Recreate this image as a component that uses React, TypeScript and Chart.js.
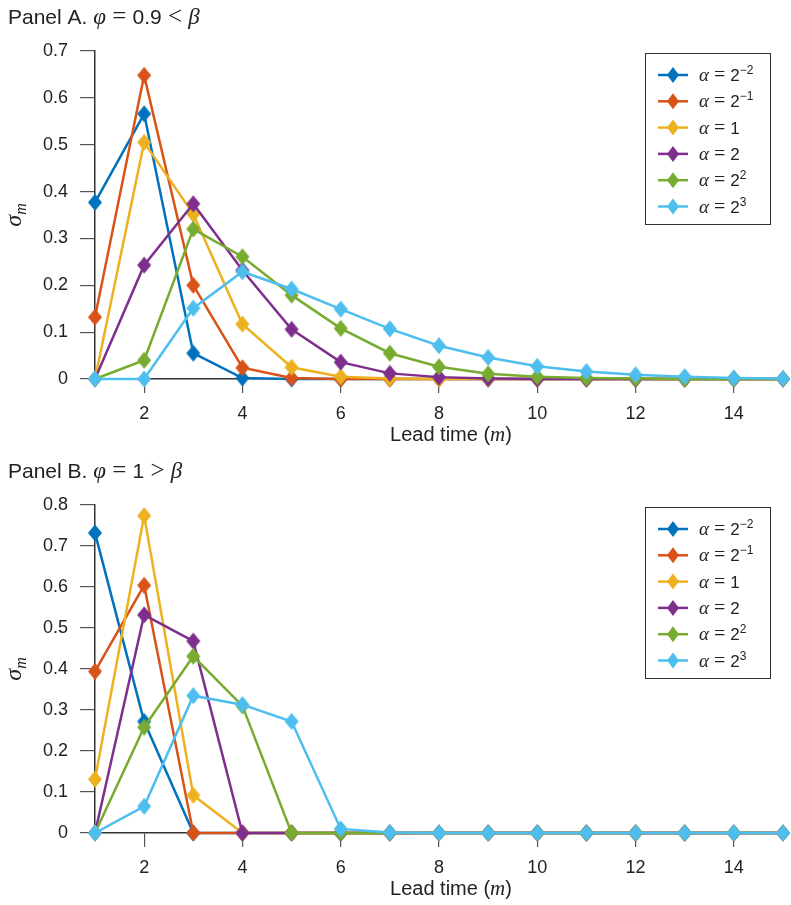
import React, { useEffect, useRef } from 'react';
import { Chart, registerables } from 'chart.js';

Chart.register(...registerables);

// ---------- data ----------
const leadTimes = [1, 2, 3, 4, 5, 6, 7, 8, 9, 10, 11, 12, 13, 14, 15];
const xTickValues = [2, 4, 6, 8, 10, 12, 14];
const yTicksA = [0, 0.1, 0.2, 0.3, 0.4, 0.5, 0.6, 0.7];
const yTicksB = [0, 0.1, 0.2, 0.3, 0.4, 0.5, 0.6, 0.7, 0.8];

const seriesColors = ['#0072BD', '#D95319', '#EDB120', '#7E2F8E', '#77AC30', '#4DBEEE'];
const legendBases = ['2', '2', '1', '2', '2', '2'];
const legendExps = ['\u22122', '\u22121', '', '', '2', '3'];

// Panel A: phi = 0.9 < beta
const alphaQuarterA = [0.377, 0.566, 0.055, 0.002, 0.0, 0, 0, 0, 0, 0, 0, 0, 0, 0, 0];
const alphaHalfA = [0.132, 0.648, 0.2, 0.024, 0.002, 0, 0, 0, 0, 0, 0, 0, 0, 0, 0];
const alphaOneA = [0, 0.505, 0.352, 0.117, 0.025, 0.005, 0.001, 0, 0, 0, 0, 0, 0, 0, 0];
const alphaTwoA = [0, 0.243, 0.374, 0.232, 0.106, 0.036, 0.012, 0.004, 0.001, 0, 0, 0, 0, 0, 0];
const alphaFourA = [0, 0.04, 0.32, 0.261, 0.179, 0.108, 0.055, 0.026, 0.011, 0.005, 0.002, 0.001, 0, 0, 0];
const alphaEightA = [0, 0, 0.151, 0.229, 0.192, 0.149, 0.107, 0.071, 0.046, 0.027, 0.016, 0.009, 0.005, 0.002, 0.001];

// Panel B: phi = 1 > beta
const alphaQuarterB = [0.732, 0.272, 0, 0, 0, 0, 0, 0, 0, 0, 0, 0, 0, 0, 0];
const alphaHalfB = [0.394, 0.604, 0, 0, 0, 0, 0, 0, 0, 0, 0, 0, 0, 0, 0];
const alphaOneB = [0.131, 0.774, 0.092, 0, 0, 0, 0, 0, 0, 0, 0, 0, 0, 0, 0];
const alphaTwoB = [0, 0.532, 0.468, 0, 0, 0, 0, 0, 0, 0, 0, 0, 0, 0, 0];
const alphaFourB = [0, 0.258, 0.431, 0.31, 0, 0, 0, 0, 0, 0, 0, 0, 0, 0, 0];
const alphaEightB = [0, 0.065, 0.335, 0.313, 0.272, 0.01, 0.001, 0, 0, 0, 0, 0, 0, 0, 0];

const seriesA = [alphaQuarterA, alphaHalfA, alphaOneA, alphaTwoA, alphaFourA, alphaEightA];
const seriesB = [alphaQuarterB, alphaHalfB, alphaOneB, alphaTwoB, alphaFourB, alphaEightB];

// ---------- text helpers ----------
const SANS = '"Liberation Sans", Arial, Helvetica, sans-serif';
const SERIF = '"Liberation Serif", "DejaVu Serif", serif';

type Run = { text: string; font: string; dy?: number };

function runsWidth(ctx: CanvasRenderingContext2D, runs: Run[]) {
  let w = 0;
  for (const r of runs) {
    ctx.font = r.font;
    w += ctx.measureText(r.text).width;
  }
  return w;
}

function drawRuns(ctx: CanvasRenderingContext2D, runs: Run[], x: number, y: number, align: 'left' | 'center') {
  let cx = align === 'center' ? x - runsWidth(ctx, runs) / 2 : x;
  ctx.textAlign = 'left';
  ctx.textBaseline = 'alphabetic';
  for (const r of runs) {
    ctx.font = r.font;
    ctx.fillText(r.text, cx, y + (r.dy || 0));
    cx += ctx.measureText(r.text).width;
  }
}

const titleRunsA: Run[] = [
  { text: 'Panel A. ', font: `21px ${SANS}` },
  { text: '\u03C6', font: `italic 23px ${SERIF}` },
  { text: ' = ', font: `25px ${SERIF}` },
  { text: '0.9', font: `21px ${SANS}` },
  { text: ' < ', font: `25px ${SERIF}` },
  { text: '\u03B2', font: `italic 23px ${SERIF}` },
];
const titleRunsB: Run[] = [
  { text: 'Panel B. ', font: `21px ${SANS}` },
  { text: '\u03C6', font: `italic 23px ${SERIF}` },
  { text: ' = ', font: `25px ${SERIF}` },
  { text: '1', font: `21px ${SANS}` },
  { text: ' > ', font: `25px ${SERIF}` },
  { text: '\u03B2', font: `italic 23px ${SERIF}` },
];

function diamondPath(ctx: CanvasRenderingContext2D, cx: number, cy: number, hw: number, hh: number) {
  ctx.beginPath();
  ctx.moveTo(cx, cy - hh);
  ctx.lineTo(cx + hw, cy);
  ctx.lineTo(cx, cy + hh);
  ctx.lineTo(cx - hw, cy);
  ctx.closePath();
}

function makeDiamond(color: string) {
  const c = document.createElement('canvas');
  c.width = 16;
  c.height = 18;
  const g = c.getContext('2d') as CanvasRenderingContext2D;
  g.fillStyle = color;
  diamondPath(g, 8, 9, 7, 8.5);
  g.fill();
  return c;
}

function makeDecorPlugin(titleRuns: Run[]) {
  return {
    id: 'decor',
    afterDraw(chart: any) {
      const ctx: CanvasRenderingContext2D = chart.ctx;
      const area = chart.chartArea;
      ctx.save();
      ctx.fillStyle = '#222';
      // panel title
      drawRuns(ctx, titleRuns, 8, 24, 'left');
      // x axis label
      drawRuns(
        ctx,
        [
          { text: 'Lead time (', font: `20px ${SANS}` },
          { text: 'm', font: `italic 21px ${SERIF}` },
          { text: ')', font: `20px ${SANS}` },
        ],
        (area.left + area.right) / 2 + 12,
        area.bottom + 62,
        'center'
      );
      // y axis label
      ctx.save();
      ctx.translate(21, (area.top + area.bottom) / 2);
      ctx.rotate(-Math.PI / 2);
      drawRuns(
        ctx,
        [
          { text: '\u03C3', font: `italic 24px ${SERIF}` },
          { text: 'm', font: `italic 16px ${SERIF}`, dy: 5 },
        ],
        0,
        0,
        'center'
      );
      ctx.restore();

      // legend
      const bx = 645;
      const by = area.top + 2;
      const bw = 125;
      const bh = 171;
      ctx.fillStyle = '#fff';
      ctx.fillRect(bx, by, bw, bh);
      ctx.strokeStyle = '#333';
      ctx.lineWidth = 1;
      ctx.strokeRect(bx + 0.5, by + 0.5, bw, bh);
      for (let i = 0; i < seriesColors.length; i++) {
        const ry = by + 22 + i * 26.3;
        ctx.strokeStyle = seriesColors[i];
        ctx.lineWidth = 2.5;
        ctx.beginPath();
        ctx.moveTo(658, ry);
        ctx.lineTo(688, ry);
        ctx.stroke();
        ctx.fillStyle = seriesColors[i];
        diamondPath(ctx, 673, ry, 6, 8);
        ctx.fill();
        ctx.fillStyle = '#222';
        const runs: Run[] = [
          { text: '\u03B1', font: `italic 19px ${SERIF}` },
          { text: ' = ', font: `20px ${SERIF}` },
          { text: legendBases[i], font: `17px ${SANS}` },
        ];
        if (legendExps[i]) runs.push({ text: legendExps[i], font: `12px ${SANS}`, dy: -7 });
        drawRuns(ctx, runs, 699, ry + 6, 'left');
      }
      ctx.restore();
    },
  };
}

type PanelProps = {
  top: number;
  height: number;
  series: number[][];
  yTicks: number[];
  titleRuns: Run[];
};

function Panel({ top, height, series, yTicks, titleRuns }: PanelProps) {
  const ref = useRef<HTMLCanvasElement | null>(null);
  useEffect(() => {
    if (!ref.current) return;
    const axisColor = '#333';
    const chart = new Chart(ref.current, {
      type: 'line',
      data: {
        datasets: series.map((vals, i) => ({
          label: `alpha ${i}`,
          data: leadTimes.map((m, j) => ({ x: m, y: vals[j] })),
          borderColor: seriesColors[i],
          backgroundColor: seriesColors[i],
          borderWidth: 2.5,
          pointStyle: makeDiamond(seriesColors[i]),
          pointRadius: 8,
          pointHoverRadius: 8,
          pointBorderWidth: 0,
          tension: 0,
          clip: false,
          order: series.length - i,
        })),
      },
      options: {
        responsive: false,
        animation: false,
        devicePixelRatio: 1,
        events: [],
        layout: { padding: { top: 51, left: 0, right: 2, bottom: 0 } },
        plugins: {
          legend: { display: false },
          tooltip: { enabled: false },
          title: { display: false },
        },
        scales: {
          x: {
            type: 'linear',
            min: 1,
            max: 15,
            afterBuildTicks: (s: any) => {
              s.ticks = xTickValues.map((v) => ({ value: v }));
            },
            afterFit: (s: any) => {
              s.height = height - 379;
            },
            grid: {
              drawOnChartArea: false,
              drawTicks: true,
              tickLength: 14,
              color: '#555',
              lineWidth: 1.2,
            },
            border: { display: true, color: axisColor, width: 1.5 },
            ticks: {
              padding: 10,
              color: '#222',
              font: { family: SANS, size: 18 },
              maxRotation: 0,
              autoSkip: false,
              callback: (v: any) => String(v),
            },
          },
          y: {
            type: 'linear',
            min: 0,
            max: yTicks[yTicks.length - 1],
            afterBuildTicks: (s: any) => {
              s.ticks = yTicks.map((v) => ({ value: v }));
            },
            afterFit: (s: any) => {
              s.width = 95;
            },
            grid: {
              drawOnChartArea: false,
              drawTicks: true,
              tickLength: 15,
              color: '#555',
              lineWidth: 1.2,
            },
            border: { display: true, color: axisColor, width: 1.5 },
            ticks: {
              padding: 12,
              color: '#222',
              font: { family: SANS, size: 18 },
              autoSkip: false,
              callback: (v: any) => (v === 0 ? '0' : Number(v).toFixed(1)),
            },
          },
        },
      },
      plugins: [makeDecorPlugin(titleRuns)],
    } as any);
    return () => chart.destroy();
  }, [height, series, yTicks, titleRuns]);
  return (
    <canvas
      ref={ref}
      width={791}
      height={height}
      style={{ position: 'absolute', left: 0, top, width: 791, height, display: 'block' }}
    />
  );
}

export default function App() {
  return (
    <div style={{ position: 'absolute', left: 0, top: 0, width: 791, height: 905, background: '#fff' }}>
      <Panel top={0} height={454} series={seriesA} yTicks={yTicksA} titleRuns={titleRunsA} />
      <Panel top={454} height={451} series={seriesB} yTicks={yTicksB} titleRuns={titleRunsB} />
    </div>
  );
}
